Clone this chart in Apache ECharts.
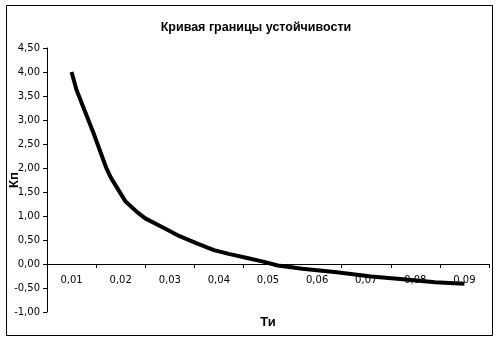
<!DOCTYPE html>
<html>
<head>
<meta charset="utf-8">
<script src="https://cdn.jsdelivr.net/npm/echarts@6/dist/echarts.min.js"></script>
<style>
html,body{margin:0;padding:0;background:#fff;}
#chart{width:500px;height:341px;}
</style>
</head>
<body>
<div id="chart"></div>
<script>
// Category labels of the X axis (Ти)
var categories = ['0,01','0,02','0,03','0,04','0,05','0,06','0,07','0,08','0,09'];
// Curve points: Ти values and Кп values
var tiValues = [0.010, 0.011, 0.0145, 0.017, 0.018, 0.021, 0.0235, 0.025, 0.029, 0.032, 0.0355, 0.039, 0.042, 0.046, 0.049, 0.052, 0.057, 0.064, 0.071, 0.0775, 0.084, 0.090];
var kpValues = [4.00, 3.63, 2.72, 2.02, 1.80, 1.30, 1.07, 0.95, 0.74, 0.58, 0.43, 0.29, 0.21, 0.12, 0.05, -0.03, -0.10, -0.17, -0.26, -0.32, -0.38, -0.41];
// Y axis range
var yMin = -1, yMax = 4.5, yStep = 0.5;

var chart = echarts.init(document.getElementById('chart'), null, {renderer: 'canvas'});
var pts = tiValues.map(function (t, i) { return [t, kpValues[i]]; });
var axisFont = {fontFamily: 'DejaVu Sans', fontSize: 10, color: '#000'};
var nameFont = {fontFamily: 'Liberation Sans', fontWeight: 'bold', fontSize: 13, color: '#000'};

// grid geometry; the category axis sits where Кп = 0
var gridTop = 48, gridBottom = 29, chartH = 341;
var plotH = chartH - gridTop - gridBottom;
var zeroShift = plotH * (0 - yMin) / (yMax - yMin);

chart.setOption({
  backgroundColor: '#fff',
  animation: false,
  title: {
    text: 'Кривая границы устойчивости',
    left: 251, top: 16, textAlign: 'center',
    textStyle: {fontFamily: 'Liberation Sans', fontWeight: 'bold', fontSize: 12.5, color: '#000'}
  },
  graphic: [{
    type: 'rect', silent: true,
    shape: {x: 6.5, y: 5.5, width: 486, height: 330},
    style: {fill: 'none', stroke: '#000', lineWidth: 1}
  }],
  grid: {left: 47, right: 11, top: gridTop, bottom: gridBottom, containLabel: false, outerBoundsMode: 'none'},
  xAxis: [{
    type: 'category',
    data: categories,
    boundaryGap: true,
    position: 'bottom',
    offset: -zeroShift,
    name: 'Ти',
    nameLocation: 'middle',
    nameGap: 52,
    nameMoveOverlap: false,
    nameTextStyle: nameFont,
    axisLine: {onZero: false, lineStyle: {color: '#000', width: 1}},
    axisTick: {show: true, inside: false, length: 4, alignWithLabel: false, lineStyle: {color: '#000'}},
    axisLabel: Object.assign({margin: 11, interval: 0}, axisFont),
    splitLine: {show: false}
  }, {
    type: 'value',
    min: 0.005, max: 0.095,
    show: false,
    axisLine: {onZero: false}
  }],
  yAxis: {
    type: 'value',
    min: yMin, max: yMax, interval: yStep,
    name: 'Кп',
    nameLocation: 'middle',
    nameGap: 26,
    nameRotate: 90,
    nameMoveOverlap: false,
    nameTextStyle: nameFont,
    axisLine: {show: true, onZero: false, lineStyle: {color: '#000', width: 1}},
    axisTick: {show: true, inside: false, length: 4, lineStyle: {color: '#000'}},
    axisLabel: Object.assign({margin: 7, formatter: function (v) { return v.toFixed(2).replace('.', ','); }}, axisFont),
    splitLine: {show: false}
  },
  series: [{
    type: 'line',
    xAxisIndex: 1,
    data: pts,
    showSymbol: false,
    smooth: false,
    lineStyle: {color: '#000', width: 4},
    z: 1
  }]
});
</script>
</body>
</html>
